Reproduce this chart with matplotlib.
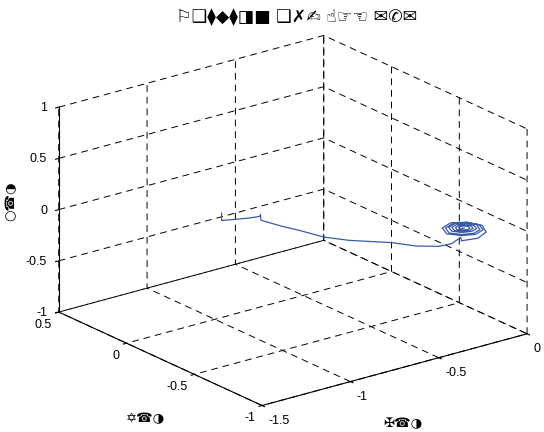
import numpy as np
import matplotlib
matplotlib.use('Agg')
import matplotlib.pyplot as plt

plt.rcParams['font.family'] = ['Liberation Sans', 'DejaVu Sans']
plt.rcParams['grid.linestyle'] = (0, (7, 5))
plt.rcParams['grid.color'] = 'black'
plt.rcParams['grid.linewidth'] = 0.7

# trajectory (main path, then the spiral at the end)
path_x = [-1.499, -1.499, -1.441, -1.344, -1.282, -1.279, -1.276, -1.156, -1.061,
          -0.920, -0.778, -0.535, -0.399, -0.269, -0.196, -0.145]
path_y = [-0.70] * 16
path_z = [0.696, 0.624, 0.604, 0.575, 0.562, 0.578, 0.521, 0.406, 0.323,
          0.191, 0.093, -0.043, -0.139, -0.203, -0.211, -0.173]

spiral_x = [-0.18, -0.11, -0.04, -0.01, -0.04, -0.11, -0.18, -0.21,
            -0.17, -0.11, -0.05, -0.025, -0.05, -0.11, -0.17, -0.195,
            -0.16, -0.11, -0.06, -0.04, -0.06, -0.11, -0.16, -0.18,
            -0.15, -0.11, -0.07, -0.055, -0.07, -0.11, -0.15, -0.165,
            -0.138, -0.11, -0.082, -0.07, -0.082, -0.11, -0.138, -0.15,
            -0.128, -0.11, -0.092, -0.085, -0.092, -0.11, -0.128, -0.135,
            -0.11]
spiral_y = [-0.75, -0.78, -0.75, -0.68, -0.61, -0.58, -0.61, -0.68,
            -0.74, -0.765, -0.74, -0.68, -0.62, -0.595, -0.62, -0.68,
            -0.73, -0.75, -0.73, -0.68, -0.63, -0.61, -0.63, -0.68,
            -0.72, -0.735, -0.72, -0.68, -0.64, -0.625, -0.64, -0.68,
            -0.708, -0.72, -0.708, -0.68, -0.652, -0.64, -0.652, -0.68,
            -0.698, -0.705, -0.698, -0.68, -0.662, -0.655, -0.662, -0.68,
            -0.68]
spiral_z = [-0.16, -0.15, -0.14, -0.13, -0.13, -0.12, -0.12, -0.12,
            -0.12, -0.12, -0.12, -0.12, -0.12, -0.12, -0.12, -0.12,
            -0.12, -0.12, -0.12, -0.11, -0.11, -0.11, -0.11, -0.11,
            -0.11, -0.11, -0.11, -0.11, -0.11, -0.11, -0.11, -0.11,
            -0.11, -0.11, -0.11, -0.11, -0.11, -0.11, -0.11, -0.11,
            -0.11, -0.11, -0.11, -0.11, -0.11, -0.11, -0.11, -0.11,
            -0.11]

xs = path_x + spiral_x
ys = path_y + spiral_y
zs = path_z + spiral_z

x_ticks = [-1.5, -1, -0.5, 0]
y_ticks = [-1, -0.5, 0, 0.5]
z_ticks = [-1, -0.5, 0, 0.5, 1]
x_ticklabels = ['-1.5', '-1', '-0.5', '0']
y_ticklabels = ['-1', '-0.5', '0', '0.5']
z_ticklabels = ['-1', '-0.5', '0', '0.5', '1']

title_text = '⚐❑⧫◆⧫◨■ ❑✗✍ ☝☞☜ ✉✆✉'
x_label = '✠☎◑'
y_label = '✡☎◑'
z_label = '○☎◑'

fig = plt.figure(figsize=(5.44, 4.32), dpi=100)
ax = fig.add_axes([0.0277, -0.0239, 1.0, 1.0], projection='3d', proj_type='ortho')
ax.view_init(elev=20.65, azim=-127.5)
ax.set_box_aspect((1, 1, 0.6555), zoom=1.17)

ax.plot(xs, ys, zs, color='#3a5ba8', linewidth=0.9)

ax.set_xlim(-1.5, 0)
ax.set_ylim(-1, 0.5)
ax.set_zlim(-1, 1)
ax.set_xticks(x_ticks)
ax.set_yticks(y_ticks)
ax.set_zticks(z_ticks)
ax.set_xticklabels(x_ticklabels, fontsize=9, ha='left')
ax.set_yticklabels(y_ticklabels, fontsize=9, ha='right')
ax.set_zticklabels(z_ticklabels, fontsize=9, ha='right', va='center_baseline')
ax.tick_params(axis='x', pad=-3)
ax.tick_params(axis='y', pad=-4)
ax.tick_params(axis='z', pad=-4)

for axis in (ax.xaxis, ax.yaxis, ax.zaxis):
    axis.set_pane_color((1, 1, 1, 0))
    axis.pane.set_edgecolor((1, 1, 1, 0))
    axis.line.set_color('black')
    axis.line.set_linewidth(0.8)
    axis._axinfo['tick']['inward_factor'] = 0.15
    axis._axinfo['tick']['outward_factor'] = 0.0

fig.text(0.545, 0.96, title_text, ha='center', va='center', fontsize=12.5,
         family=['DejaVu Sans'])
fig.text(0.741, 0.0185, x_label, ha='center', va='center', fontsize=9.5,
         family=['DejaVu Sans'])
fig.text(0.2665, 0.030, y_label, ha='center', va='center', fontsize=9.5,
         family=['DejaVu Sans'])
fig.text(0.02, 0.535, z_label, ha='center', va='center', fontsize=9.5,
         rotation=90, family=['DejaVu Sans'])

fig.savefig('out.png', dpi=100)
